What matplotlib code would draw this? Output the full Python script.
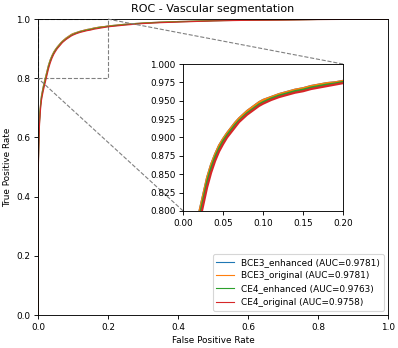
import matplotlib
matplotlib.use("Agg")
import matplotlib.pyplot as plt
from matplotlib.ticker import FormatStrFormatter
from mpl_toolkits.axes_grid1.inset_locator import mark_inset

labels = ["BCE3_enhanced (AUC=0.9781)", "BCE3_original (AUC=0.9781)",
          "CE4_enhanced (AUC=0.9763)", "CE4_original (AUC=0.9758)"]
fpr = [0, 0.0002, 0.0005, 0.001, 0.002, 0.003, 0.004, 0.006, 0.008, 0.01, 0.0125, 0.015,
       0.0175, 0.02, 0.025, 0.03, 0.035, 0.04, 0.045, 0.05, 0.055, 0.06, 0.065, 0.07,
       0.075, 0.08, 0.085, 0.09, 0.095, 0.10, 0.11, 0.12, 0.13, 0.14, 0.15, 0.16, 0.17,
       0.18, 0.19, 0.20, 0.25, 0.3, 0.35, 0.4, 0.5, 0.6, 0.7, 0.8, 0.9, 1.0]
tpr_bce3_enh = [0, 0.40, 0.45, 0.51, 0.58, 0.625, 0.655, 0.695, 0.722, 0.742, 0.757, 0.772,
                0.785, 0.797, 0.821, 0.845, 0.863, 0.877, 0.889, 0.898, 0.906, 0.913, 0.920,
                0.926, 0.931, 0.936, 0.940, 0.944, 0.948, 0.951, 0.955, 0.959, 0.962, 0.965,
                0.967, 0.970, 0.972, 0.974, 0.975, 0.977, 0.983, 0.987, 0.990, 0.992, 0.995,
                0.997, 0.998, 0.999, 0.9995, 1.0]
tpr_bce3_orig = [0, 0.40, 0.45, 0.51, 0.58, 0.625, 0.655, 0.695, 0.722, 0.742, 0.757, 0.772,
                 0.785, 0.797, 0.821, 0.845, 0.863, 0.877, 0.889, 0.898, 0.906, 0.913, 0.920,
                 0.926, 0.931, 0.936, 0.940, 0.944, 0.948, 0.951, 0.955, 0.959, 0.962, 0.965,
                 0.967, 0.970, 0.972, 0.974, 0.975, 0.977, 0.983, 0.987, 0.990, 0.992, 0.995,
                 0.997, 0.998, 0.999, 0.9995, 1.0]
tpr_ce4_enh = [0, 0.39, 0.44, 0.50, 0.57, 0.615, 0.645, 0.686, 0.714, 0.734, 0.750, 0.765,
               0.778, 0.790, 0.814, 0.839, 0.858, 0.873, 0.885, 0.895, 0.903, 0.910, 0.917,
               0.923, 0.928, 0.933, 0.937, 0.941, 0.945, 0.948, 0.953, 0.957, 0.960, 0.963,
               0.965, 0.968, 0.970, 0.972, 0.9735, 0.9755, 0.9815, 0.986, 0.989, 0.991,
               0.9945, 0.9965, 0.9975, 0.9988, 0.9993, 1.0]
tpr_ce4_orig = [0, 0.38, 0.43, 0.49, 0.56, 0.605, 0.635, 0.677, 0.705, 0.726, 0.742, 0.757,
                0.770, 0.782, 0.807, 0.832, 0.852, 0.868, 0.881, 0.891, 0.900, 0.907, 0.914,
                0.921, 0.926, 0.931, 0.935, 0.939, 0.943, 0.946, 0.951, 0.955, 0.958, 0.961,
                0.963, 0.966, 0.968, 0.970, 0.972, 0.974, 0.980, 0.985, 0.988, 0.990, 0.994,
                0.996, 0.997, 0.9985, 0.9992, 1.0]
series = [tpr_bce3_enh, tpr_bce3_orig, tpr_ce4_enh, tpr_ce4_orig]
colors = ["#1f77b4", "#ff7f0e", "#2ca02c", "#d62728"]

fig = plt.figure(figsize=(398 / 80, 348 / 80), dpi=80)
ax = fig.add_axes([0.0955, 0.0948, 0.8795, 0.8502])
for y, c, l in zip(series, colors, labels):
    ax.plot(fpr, y, color=c, lw=1, label=l)
ax.set_xlim(0, 1)
ax.set_ylim(0, 1)
ax.set_xlabel("False Positive Rate", fontsize=8)
ax.set_ylabel("True Positive Rate", fontsize=8)
ax.set_title("ROC - Vascular segmentation", fontsize=10)
ax.tick_params(labelsize=8)
ax.legend(loc="lower right", fontsize=8)

axins = fig.add_axes([0.46, 0.394, 0.402, 0.422])
for y, c in zip(series, colors):
    axins.plot(fpr, y, color=c, lw=2)
axins.set_xlim(0, 0.2)
axins.set_ylim(0.8, 1.0)
axins.set_xticks([0, 0.05, 0.10, 0.15, 0.20])
axins.set_yticks([0.8, 0.825, 0.85, 0.875, 0.9, 0.925, 0.95, 0.975, 1.0])
axins.xaxis.set_major_formatter(FormatStrFormatter("%.2f"))
axins.yaxis.set_major_formatter(FormatStrFormatter("%.3f"))
axins.tick_params(labelsize=8)

mark_inset(ax, axins, loc1=1, loc2=3, fc="none", ec="0.5", ls="--", lw=1)

fig.savefig("out.png", dpi=80)
